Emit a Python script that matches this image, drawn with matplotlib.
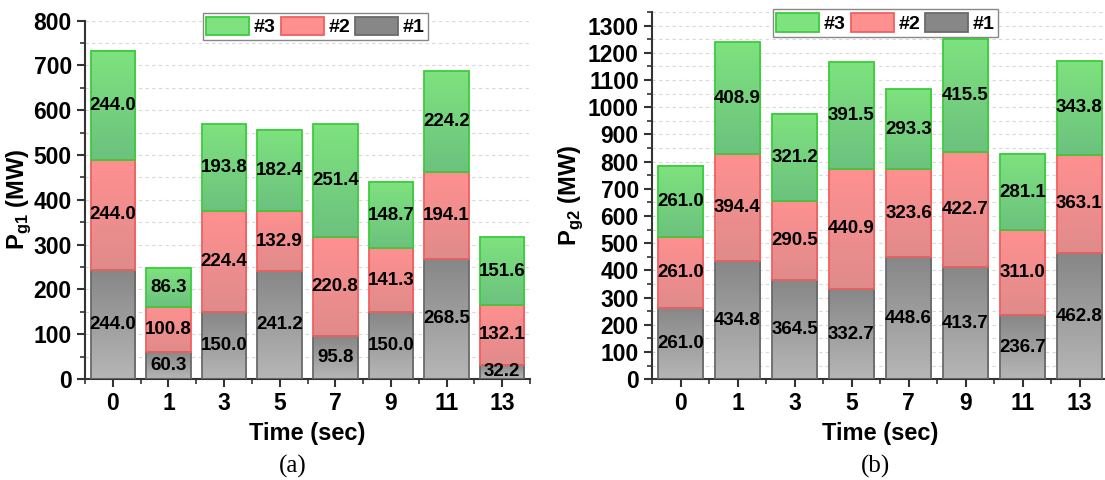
import numpy as np
import matplotlib
matplotlib.use('Agg')
import matplotlib.pyplot as plt
from matplotlib.colors import LinearSegmentedColormap
from matplotlib.patches import Patch
from matplotlib.ticker import MultipleLocator, FixedLocator

times = ['0', '1', '3', '5', '7', '9', '11', '13']
series_names = ['#1', '#2', '#3']

pg1_u1 = [244.0, 60.3, 150.0, 241.2, 95.8, 150.0, 268.5, 32.2]
pg1_u2 = [244.0, 100.8, 224.4, 132.9, 220.8, 141.3, 194.1, 132.1]
pg1_u3 = [244.0, 86.3, 193.8, 182.4, 251.4, 148.7, 224.2, 151.6]

pg2_u1 = [261.0, 434.8, 364.5, 332.7, 448.6, 413.7, 236.7, 462.8]
pg2_u2 = [261.0, 394.4, 290.5, 440.9, 323.6, 422.7, 311.0, 363.1]
pg2_u3 = [261.0, 408.9, 321.2, 391.5, 293.3, 415.5, 281.1, 343.8]

plt.rcParams['font.family'] = ['Liberation Sans', 'DejaVu Sans']
plt.rcParams['font.weight'] = 'bold'
plt.rcParams['mathtext.fontset'] = 'custom'
plt.rcParams['mathtext.rm'] = 'Liberation Sans'
plt.rcParams['mathtext.bf'] = 'Liberation Sans:bold'

# (top colour, bottom colour, edge colour)
styles = [
    ('#878787', '#b6b6b6', '#6a6a6a'),
    ('#ff9090', '#e08b8b', '#f06060'),
    ('#7ee27e', '#6cc27e', '#3ccc3c'),
]

fig = plt.figure(figsize=(11.05, 4.8), dpi=100)
ax1 = fig.add_axes([85 / 1105, 101 / 480, 445 / 1105, 358.5 / 480])
ax2 = fig.add_axes([652 / 1105, 100.7 / 480, 456 / 1105, 367.3 / 480])


def draw(ax, series, ymax, ylabel, legend_anchor, tag, tag_x):
    x = np.arange(len(times))
    bottom = np.zeros(len(times))
    for vals, (ctop, cbot, edge) in zip(series, styles):
        vals = np.asarray(vals)
        bars = ax.bar(x, vals, 0.8, bottom=bottom, facecolor='none',
                      edgecolor=edge, lw=1.3, zorder=3)
        cmap = LinearSegmentedColormap.from_list('g', [cbot, ctop])
        for b in bars:
            x0, y0, w, h = b.get_x(), b.get_y(), b.get_width(), b.get_height()
            ax.imshow(np.linspace(0, 1, 64).reshape(-1, 1), cmap=cmap,
                      origin='lower', extent=(x0, x0 + w, y0, y0 + h),
                      aspect='auto', zorder=2, interpolation='bilinear')
        for xi, v, b0 in zip(x, vals, bottom):
            ax.text(xi, b0 + v / 2, f'{v:.1f}', ha='center', va='center',
                    fontsize=13.5, fontweight='bold', zorder=5)
        bottom = bottom + vals

    ax.set_xlim(-0.5, len(times) - 0.5)
    ax.set_ylim(0, ymax)
    ax.set_xticks(x)
    ax.set_xticklabels(times)
    ax.xaxis.set_minor_locator(FixedLocator(np.arange(-0.5, len(times), 1.0)))
    ax.yaxis.set_major_locator(MultipleLocator(100))
    ax.yaxis.set_minor_locator(MultipleLocator(50))
    ax.grid(which='both', axis='y', color='#d8d8d8', ls=(0, (3, 3)), lw=0.8, zorder=0)
    ax.set_axisbelow(True)
    for s in ['top', 'right']:
        ax.spines[s].set_visible(False)
    for s in ['left', 'bottom']:
        ax.spines[s].set_linewidth(1.5)
        ax.spines[s].set_color('#333333')
    ax.tick_params(which='major', direction='out', length=6, width=1.5,
                   labelsize=16.5, pad=3.5, color='#333333')
    ax.tick_params(which='minor', direction='out', length=3.5, width=1.2,
                   color='#333333')
    ax.set_xlabel('Time (sec)', fontsize=17, fontweight='bold', labelpad=5)
    ax.set_ylabel(ylabel, fontsize=17, fontweight='bold')

    handles = [Patch(facecolor=styles[i][0], edgecolor=styles[i][2], lw=1.3)
               for i in (2, 1, 0)]
    labels = [series_names[i] for i in (2, 1, 0)]
    leg = ax.legend(handles, labels, ncol=3, loc='upper center',
                    bbox_to_anchor=legend_anchor, fontsize=14,
                    handlelength=2.2, handleheight=1.1, handletextpad=0.25,
                    columnspacing=0.25, borderpad=0.2, borderaxespad=0,
                    fancybox=False, framealpha=1, edgecolor='#888888')
    leg.get_frame().set_linewidth(1.0)
    for t in leg.get_texts():
        t.set_fontweight('bold')
    fig.text(tag_x, 1 - 466 / 480, tag, ha='center', va='center',
             fontsize=18, family='Liberation Serif', fontweight='normal')


draw(ax1, [pg1_u1, pg1_u2, pg1_u3], 800,
     r'$\mathbf{P}_{\mathrm{g1}}$ (MW)', (0.518, 1.022), '(a)', 293 / 1105)
draw(ax2, [pg2_u1, pg2_u2, pg2_u3], 1350,
     r'$\mathbf{P}_{\mathrm{g2}}$ (MW)', (0.512, 1.008), '(b)', 875 / 1105)

ax1.yaxis.set_label_coords((33 - 85) / 445, 0.5)
ax2.yaxis.set_label_coords((585 - 652) / 456, 0.5)

fig.savefig('out.png', dpi=100)
